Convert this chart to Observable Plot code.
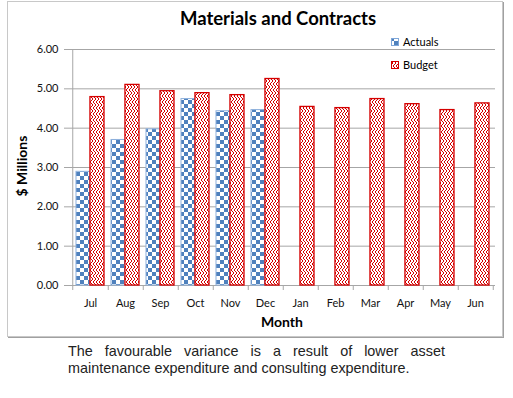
<!DOCTYPE html>
<html>
<head>
<meta charset="utf-8">
<script src="https://cdn.jsdelivr.net/npm/d3@7"></script>
<script src="https://cdn.jsdelivr.net/npm/@observablehq/plot@0.6"></script>
<style>
  body { margin: 0; width: 513px; height: 398px; position: relative; background: #fff; overflow: hidden; font-family: Lato, sans-serif; }
  .abs { position: absolute; white-space: nowrap; }
  #frame { position: absolute; left: 7px; top: 1px; width: 494px; height: 334px; border: 1px solid #c8c8c8; box-shadow: 1px 1px 0 #a0a0a0; }
  #chart { position: absolute; left: 0; top: 0; }
  #chart svg g[aria-label^="y-axis"] line, #chart svg g[aria-label^="y-axis"] path { stroke: #a6a6a6; }
  .title { left: 0; width: 556px; text-align: center; top: 7px; font: bold 18.5px Lato; line-height: 1.2; color: #000; }
  .xlab { left: 69px; width: 426px; text-align: center; top: 314px; font: bold 14px Lato; line-height: 1.2; color: #000; }
  .ylab { left: 22px; top: 166px; transform: translate(-50%, -50%) rotate(-90deg); font: bold 14px Lato; line-height: 1.2; color: #000; }
  .leg { font: 11px Lato; line-height: 13px; color: #000; }
  .caption { left: 68px; top: 343px; width: 377px; font: 14.4px "Liberation Sans", Arial, sans-serif; line-height: 17px; text-align: justify; color: #222; white-space: normal; }
</style>
</head>
<body>
<svg width="0" height="0" style="position:absolute">
  <defs>
    <pattern id="checker" patternUnits="userSpaceOnUse" width="8" height="8">
      <rect width="8" height="8" fill="#fff"/>
      <rect x="0" y="0" width="4" height="4" fill="#4f81bd"/>
      <rect x="4" y="4" width="4" height="4" fill="#4f81bd"/>
    </pattern>
    <pattern id="zigzag" patternUnits="userSpaceOnUse" width="6" height="6">
      <rect width="6" height="6" fill="#fff"/>
      <path d="M0,0 L3,3 L0,6 M3,0 L6,3 L3,6" fill="none" stroke="#d40000" stroke-width="1"/>
    </pattern>
  </defs>
</svg>
<div id="frame"></div>
<div id="chart"></div>
<div class="abs title">Materials and Contracts</div>
<div class="abs xlab">Month</div>
<div class="abs ylab">$ Millions</div>
<svg class="abs" style="left:390px;top:37px" width="10" height="10"><rect x="1.5" y="1.5" width="7" height="7" fill="url(#checker)" stroke="#7fa7d9"/></svg>
<div class="abs leg" style="left:403px;top:35px">Actuals</div>
<svg class="abs" style="left:390px;top:60px" width="10" height="10"><rect x="1.5" y="1.5" width="7" height="7" fill="url(#zigzag)" stroke="#d40000"/></svg>
<div class="abs leg" style="left:403px;top:58px">Budget</div>
<div class="abs caption">The favourable variance is a result of lower asset maintenance expenditure and consulting expenditure.</div>
<script>
const months = ["Jul","Aug","Sep","Oct","Nov","Dec","Jan","Feb","Mar","Apr","May","Jun"];
const actuals = [2.89, 3.70, 3.97, 4.74, 4.43, 4.46];
const budget = [4.79, 5.10, 4.94, 4.89, 4.84, 5.25, 4.54, 4.51, 4.74, 4.61, 4.46, 4.63];
const yTicks = [0, 1, 2, 3, 4, 5, 6];

const W = 513, H = 340, mL = 69, mR = 18, mT = 49, mB = 55;
const padInner = 0.214, padOuter = 0.107;
const step = (W - mL - mR) / months.length;
const half = step * (1 - padInner) / 2;

const actualsData = actuals.map((v, i) => ({month: months[i], value: v}));
const budgetData = budget.map((v, i) => ({month: months[i], value: v}));

const plot = Plot.plot({
  width: W, height: H,
  marginLeft: mL, marginRight: mR, marginTop: mT, marginBottom: mB,
  style: {fontFamily: "Lato", fontSize: "11px", color: "#111", background: "transparent", overflow: "visible"},
  x: {domain: months, paddingInner: padInner, paddingOuter: padOuter, tickSize: 0, tickPadding: 14, label: null},
  y: {domain: [0, 6], ticks: yTicks, tickFormat: d3.format(".2f"), tickSize: 5, tickPadding: 6, label: null},
  marks: [
    Plot.ruleY(yTicks, {stroke: "#a6a6a6"}),
    Plot.ruleX([months[0]], {dx: -step / 2, stroke: "#a6a6a6", insetBottom: -5}),
    Plot.ruleX(months, {dx: step / 2, y1: 0, y2: 0, insetBottom: -5, stroke: "#a6a6a6"}),
    Plot.barY(actualsData, {x: "month", y: "value", fill: "url(#checker)", stroke: "#8db0dc", strokeWidth: 1, insetRight: half}),
    Plot.barY(budgetData, {x: "month", y: "value", fill: "url(#zigzag)", stroke: "#d40000", strokeWidth: 1.3, insetLeft: half})
  ]
});
document.getElementById("chart").appendChild(plot);
</script>
</body>
</html>
